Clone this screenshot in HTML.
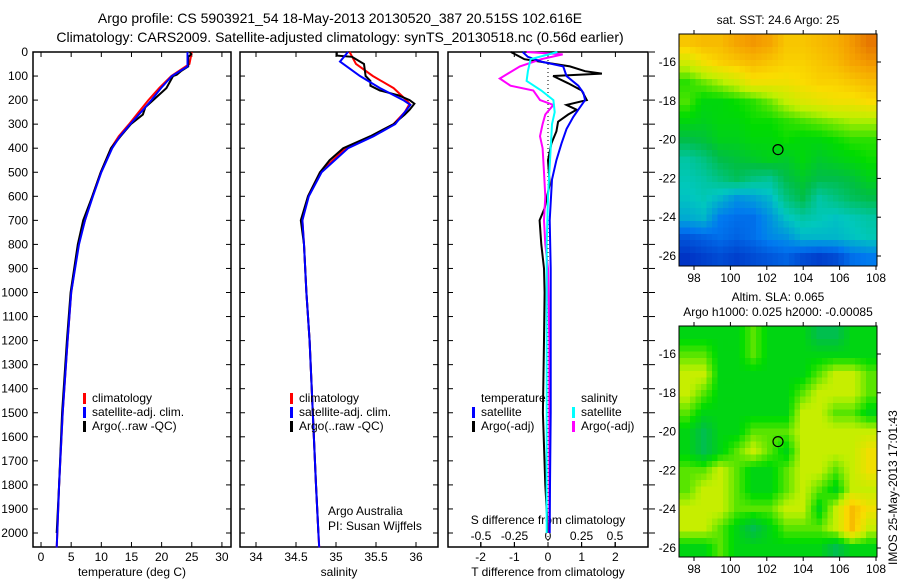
<!DOCTYPE html>
<html><head><meta charset="utf-8"><style>
body{margin:0;background:#fff}
svg{display:block;font-family:"Liberation Sans",sans-serif}
text{fill:#000}
</style></head><body>
<svg id="c" width="900" height="580" viewBox="0 0 900 580">
<text x="340" y="23" font-size="14" text-anchor="middle">Argo profile: CS 5903921_54 18-May-2013 20130520_387 20.515S 102.616E</text>
<text x="340" y="42" font-size="14" text-anchor="middle">Climatology: CARS2009. Satellite-adjusted climatology: synTS_20130518.nc (0.56d earlier)</text>
<text x="778" y="24" font-size="12" text-anchor="middle">sat. SST: 24.6 Argo: 25</text>
<text x="778" y="301" font-size="12" text-anchor="middle">Altim. SLA: 0.065</text>
<text x="778" y="316" font-size="12" text-anchor="middle">Argo h1000: 0.025 h2000: -0.00085</text>
<text transform="translate(897,565) rotate(-90)" font-size="12">IMOS 25-May-2013 17:01:43</text>
</svg>
<script>
// ---- data ----
var depthTicks=[0,100,200,300,400,500,600,700,800,900,1000,1100,1200,1300,1400,1500,1600,1700,1800,1900,2000];
var tTicks=[0,5,10,15,20,25,30];
var sTicks=[34,34.5,35,35.5,36];
var dTTicks=[-2,-1,0,1,2];
var dSTicks=[-0.5,-0.25,0,0.25,0.5];
var dSTickLabels=["-0.5","-0.25","0","0.25","0.5"];
var lonTicks=[98,100,102,104,106,108];
var latTicks=[-16,-18,-20,-22,-24,-26];

var tClimDepth=[0,50,100,150,200,250,300,350,400,500,600,700,800,1000,1200,1500,1800,2000,2060];
var tClim=[25.0,24.6,21.6,19.6,17.8,16.2,14.6,12.9,11.6,9.9,8.5,7.3,6.2,5.0,4.4,3.6,3.0,2.7,2.6];
var tSatDepth=[0,60,100,150,200,250,300,350,400,500,600,700,800,1000,1200,1500,1800,2000,2060];
var tSat=[24.3,24.3,21.7,19.9,18.3,16.6,14.8,13.1,11.8,10.0,8.6,7.3,6.3,5.0,4.4,3.6,3.0,2.7,2.6];
var tArgoDepth=[0,10,20,60,80,95,100,150,200,230,260,300,350,400,500,600,700,800,1000,1200,1500,1800,2000];
var tArgo=[24.7,24.9,24.4,24.4,23.2,22.5,21.9,20.8,18.6,17.3,16.9,14.9,13.2,11.6,9.9,8.5,7.0,6.1,4.9,4.3,3.5,3.0,2.6];

var sClimDepth=[0,50,100,150,200,215,250,300,350,400,500,600,700,800,1000,1200,1500,1800,2000,2060];
var sClim=[35.17,35.25,35.46,35.72,35.88,35.92,35.86,35.72,35.44,35.12,34.80,34.65,34.58,34.60,34.63,34.67,34.71,34.75,34.78,34.79];
var sSatDepth=[0,40,100,150,200,220,250,300,350,400,500,600,700,800,1000,1200,1500,1800,2000,2060];
var sSat=[35.15,35.05,35.30,35.55,35.84,35.93,35.86,35.74,35.47,35.15,34.82,34.66,34.58,34.60,34.63,34.67,34.71,34.75,34.78,34.79];
var sArgoDepth=[0,15,20,50,100,120,140,160,180,200,215,240,260,300,350,400,450,500,600,700,800,1000,1200,1500,1800,2000];
var sArgo=[35.01,35.01,35.20,35.35,35.37,35.43,35.43,35.55,35.78,35.92,35.98,35.92,35.86,35.72,35.43,35.09,34.92,34.80,34.65,34.56,34.60,34.63,34.67,34.71,34.75,34.78];

var dTSatDepth=[0,20,40,60,100,140,170,200,240,270,320,380,450,530,700,900,1200,1500,1800,2000];
var dTSat=[-0.75,-0.6,-0.2,0.45,0.55,0.9,1.05,1.1,0.9,0.75,0.55,0.4,0.25,0.12,0.05,0.08,0.08,0.08,0.06,0.05];
var dTArgoDepth=[0,15,30,60,80,90,100,130,160,200,220,240,260,290,330,380,450,550,650,700,800,900,1000,1200,1500,1800,2000];
var dTArgo=[-1.1,-0.9,-0.7,0.65,1.1,1.6,0.15,0.6,1.0,1.15,0.55,0.85,0.6,0.3,0.25,0.1,0.0,0.05,-0.1,-0.25,-0.2,-0.12,-0.1,-0.12,-0.15,-0.08,0.0];
var dSArgoDepth=[0,10,30,60,110,140,160,200,220,260,300,350,400,500,600,700,800,900,1200,1500,1800,2000];
var dSArgo=[-0.16,0.11,-0.05,-0.21,-0.36,-0.28,-0.11,-0.06,0.04,-0.02,-0.04,-0.06,-0.04,-0.03,-0.02,-0.03,-0.02,0.0,0.01,0.01,0.01,0.01];
var dSSatDepth=[0,30,80,120,160,200,250,300,400,600,800,1200,1600,2000];
var dSSat=[0.07,-0.13,-0.15,-0.16,-0.05,0.04,0.05,0.03,0.02,0.0,-0.01,-0.01,-0.01,-0.01];

var sstRows=[
[26.3,26.4,26.4,26.6,26.7,26.6,26.3,26.3,26.4,26.5,26.7,26.9],
[25.7,26.0,26.2,26.3,26.4,26.3,26.2,26.2,26.3,26.4,26.6,26.7],
[25.1,25.3,25.5,25.7,26.0,26.0,26.0,26.1,26.2,26.2,26.3,26.4],
[25.2,24.9,24.9,25.0,25.1,25.3,25.6,25.8,25.9,26.0,26.0,26.1],
[24.9,24.8,24.9,24.9,25.0,25.0,25.1,25.2,25.3,25.4,25.5,25.5],
[24.5,24.6,24.8,24.8,24.9,24.9,25.0,24.9,24.9,25.0,25.1,25.1],
[24.0,24.2,24.5,24.6,24.7,24.8,24.7,24.9,24.7,24.8,24.9,25.0],
[23.9,24.0,24.2,24.4,24.2,24.1,24.5,24.7,24.5,24.5,24.6,24.8],
[23.8,23.9,23.7,23.4,23.5,23.7,24.2,24.5,24.0,24.2,24.4,24.5],
[23.6,23.7,23.2,23.1,23.1,23.4,23.8,24.0,23.9,23.8,23.9,24.0],
[22.9,23.0,23.1,23.0,23.1,23.3,23.4,23.7,23.7,23.7,23.8,23.9],
[22.6,22.7,22.8,22.7,22.8,22.9,23.0,22.8,22.7,22.8,23.1,23.2]];
var slaRows=[
[5,5,5,5,6,5,5,5,4,4,5,5],
[6,6,5,5,6,5,5,5,5,5,5,5],
[7,7,5,5,5,5,5,5,6,7,7,6],
[7,6,5,5,5,5,5,6,7,7,7,6],
[6,5,5,5,5,5,5,7,7,6,6,5],
[5,4,5,5,6,6,6,7,7,7,7,7],
[5,4,5,6,7,6,5,7,7,7,7,8],
[6,6,7,6,5,5,6,7,7,6,7,8],
[6,7,7,6,5,5,6,7,6,5,7,7],
[7,7,7,6,6,6,7,7,5,7,9,8],
[7,7,6,5,4,5,6,6,6,7,9,7],
[5,5,6,5,5,5,5,5,5,4,5,5]];
var floatLon=102.616, floatLat=-20.515;

// ---- drawing ----
var svg=document.getElementById('c');var NS='http://www.w3.org/2000/svg';
function mk(t,a,p){var e=document.createElementNS(NS,t);for(var k in a)e.setAttribute(k,a[k]);(p||svg).appendChild(e);return e;}
var Y0=52,PXM=0.2405;
function yD(d){return Y0+d*PXM;}
var P1={x0:33,x1:231,vmin:-1.33,px:6.03};
var P2={x0:240,x1:438,vmin:33.8,px:80};
var P3={x0:448,x1:648};
function xT(v){return P1.x0+(v-P1.vmin)*P1.px;}
function xS(v){return P2.x0+(v-P2.vmin)*P2.px;}
function xdT(v){return 548+v*33.7;}
function xdS(v){return 548+v*134;}
function panel(P,name){
 var r=mk('rect',{x:P.x0,y:52,width:P.x1-P.x0,height:495,fill:'none',stroke:'#000','stroke-width':1.5});
 
 depthTicks.forEach(function(d){mk('line',{x1:P.x0,x2:P.x0+5,y1:yD(d),y2:yD(d),stroke:'#000'});mk('line',{x1:P.x1,x2:P.x1-5,y1:yD(d),y2:yD(d),stroke:'#000'});});
}
panel(P1,'temperature-panel');panel(P2,'salinity-panel');panel(P3,'difference-panel');
depthTicks.forEach(function(d){var t=mk('text',{x:28,y:yD(d)+4,'font-size':12,'text-anchor':'end'});t.textContent=d;

mk('line',{x1:649,x2:655,y1:yD(d),y2:yD(d),stroke:'#000'});});
function xticks(vals,fx,labels,yl,top,name){vals.forEach(function(v,i){var x=fx(v);
 mk('line',{x1:x,x2:x,y1:547,y2:542,stroke:'#000'});if(top)mk('line',{x1:x,x2:x,y1:52,y2:57,stroke:'#000'});
 var t=mk('text',{x:x,y:yl,'font-size':12,'text-anchor':'middle'});t.textContent=labels?labels[i]:v;
 });}
xticks(tTicks,xT,null,561,true,'temperature-tick-label');
xticks(sTicks,xS,null,561,true,'salinity-tick-label');
xticks(dTTicks,xdT,null,561,true,'t-diff-tick-label');
dSTicks.forEach(function(v,i){var x=xdS(v);mk('line',{x1:x,x2:x,y1:547,y2:542,stroke:'#000'});
 var t=mk('text',{x:x,y:540,'font-size':12,'text-anchor':'middle'});t.textContent=dSTickLabels[i];
 });
function lbl(x,y,s,name,anc){var t=mk('text',{x:x,y:y,'font-size':12,'text-anchor':anc||'middle'});t.textContent=s;return t;}
lbl(132,576,'temperature (deg C)','temperature-axis-title');
lbl(339,576,'salinity','salinity-axis-title');
lbl(548,576,'T difference from climatology','t-diff-axis-title');
lbl(548,524,'S difference from climatology','s-diff-axis-title');
lbl(328,515,'Argo Australia','argo-australia-label','start');
lbl(328,530,'PI: Susan Wijffels','pi-label','start');
mk('line',{x1:548,x2:548,y1:52,y2:547,stroke:'#000','stroke-dasharray':'1,3'});
function line(ds,vs,fx,col,name){var p=ds.map(function(d,i){return fx(vs[i]).toFixed(1)+','+yD(d).toFixed(1);}).join(' ');
 var e=mk('polyline',{points:p,fill:'none',stroke:col,'stroke-width':2});}
line(tClimDepth,tClim,xT,'#f00','temperature-climatology-line');
line(tArgoDepth,tArgo,xT,'#000','temperature-argo-line');
line(tSatDepth,tSat,xT,'#00f','temperature-satellite-line');
line(sClimDepth,sClim,xS,'#f00','salinity-climatology-line');
line(sArgoDepth,sArgo,xS,'#000','salinity-argo-line');
line(sSatDepth,sSat,xS,'#00f','salinity-satellite-line');
line(dTArgoDepth,dTArgo,xdT,'#000','t-diff-argo-line');
line(dSArgoDepth,dSArgo,xdS,'#f0f','s-diff-argo-line');
line(dTSatDepth,dTSat,xdT,'#00f','t-diff-satellite-line');
line(dSSatDepth,dSSat,xdS,'#0ff','s-diff-satellite-line');
function leg(x,y,col,s,name){mk('rect',{x:x,y:y-9,width:3,height:11,fill:col});var t=lbl(x+9,y,s,name,'start');}
[[P1,83],[P2,290]].forEach(function(a){var x=a[1];leg(x,402,'#f00','climatology','legend-climatology');leg(x,416,'#00f','satellite-adj. clim.','legend-satellite-adj');leg(x,430,'#000','Argo(..raw -QC)','legend-argo');});
lbl(481,402,'temperature','legend-temperature-header','start');
lbl(581,402,'salinity','legend-salinity-header','start');
leg(472,416,'#00f','satellite','legend-t-satellite');leg(472,430,'#000','Argo(-adj)','legend-t-argo');
leg(572,416,'#0ff','satellite','legend-s-satellite');leg(572,430,'#f0f','Argo(-adj)','legend-s-argo');

// maps
var cmapStops=[[0,[0,40,190]],[0.15,[0,120,240]],[0.3,[0,200,190]],[0.45,[0,190,70]],[0.55,[0,220,0]],[0.68,[190,240,0]],[0.8,[250,220,0]],[0.92,[245,160,0]],[1,[225,105,0]]];
function cmap(t){t=Math.max(0,Math.min(1,t));for(var i=1;i<cmapStops.length;i++){if(t<=cmapStops[i][0]){var a=cmapStops[i-1],b=cmapStops[i],f=(t-a[0])/(b[0]-a[0]);
 return 'rgb('+[0,1,2].map(function(k){return Math.round(a[1][k]+(b[1][k]-a[1][k])*f);}).join(',')+')';}}return 'rgb(225,105,0)';}
var MX0=679,MX1=877,LONPX=18.2;
function mapLon(v){return 694+(v-98)*LONPX;}
function sample(rows,fy,fx){var nr=rows.length,nc=rows[0].length;
 var y=Math.max(0,Math.min(nr-1,fy)),x=Math.max(0,Math.min(nc-1,fx));var i=Math.floor(y),j=Math.floor(x),i2=Math.min(nr-1,i+1),j2=Math.min(nc-1,j+1),a=y-i,b=x-j;
 return rows[i][j]*(1-a)*(1-b)+rows[i][j2]*(1-a)*b+rows[i2][j]*a*(1-b)+rows[i2][j2]*a*b;}
function drawMap(rows,top,bot,colf,name){
 var latY=function(v){return top+28+(-16-v)*19.4;};
 var g=mk('g',{'shape-rendering':'crispEdges'});
 var nr=rows.length,nc=rows[0].length,K=3,cw=(MX1-MX0)/(nc*K),ch=(bot-top)/(nr*K);
 for(var i=0;i<nr*K;i++)for(var j=0;j<nc*K;j++){var v=sample(rows,(i+0.5)/K-0.5,(j+0.5)/K-0.5);
  var c=mk('rect',{x:(MX0+j*cw).toFixed(2),y:(top+i*ch).toFixed(2),width:(cw+0.6).toFixed(2),height:(ch+0.6).toFixed(2),fill:colf(v)},g);
  }
 mk('rect',{x:MX0,y:top,width:MX1-MX0,height:bot-top,fill:'none',stroke:'#000','stroke-width':1});
 lonTicks.forEach(function(v){var x=mapLon(v);mk('line',{x1:x,x2:x,y1:bot,y2:bot+4,stroke:'#000'});mk('line',{x1:x,x2:x,y1:top,y2:top-4,stroke:'#000'});
  var t=mk('text',{x:x,y:bot+16,'font-size':12,'text-anchor':'middle'});t.textContent=v;});
 latTicks.forEach(function(v){var y=latY(v);mk('line',{x1:MX1,x2:MX1+4,y1:y,y2:y,stroke:'#000'});
  var t=mk('text',{x:676,y:y+4,'font-size':12,'text-anchor':'end'});t.textContent=v;});
 var m=mk('circle',{cx:mapLon(floatLon),cy:latY(floatLat),r:5,fill:'none',stroke:'#000','stroke-width':1.2});
 
}
drawMap(sstRows,34,266,function(v){return cmap((v-22.5)/4.5);},'sst-map');
drawMap(slaRows,326,557,function(v){return cmap(0.1+v*0.085);},'sla-map');
</script>
</body></html>
